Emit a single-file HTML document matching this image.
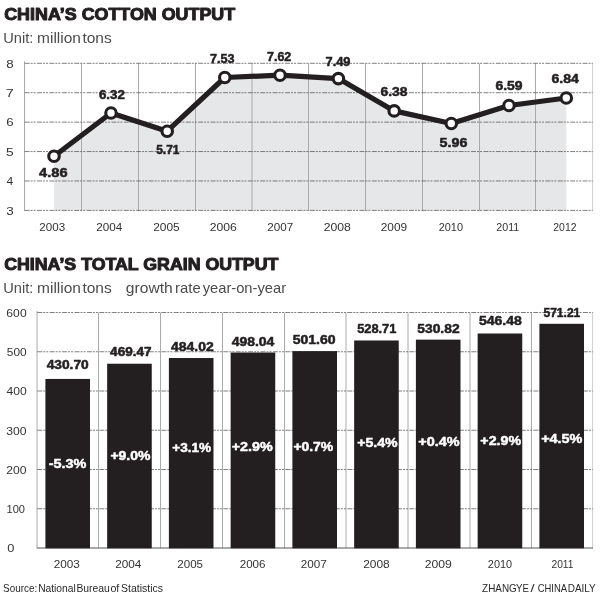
<!DOCTYPE html>
<html lang="en">
<head>
<meta charset="utf-8">
<title>China's cotton output / China's total grain output</title>
<style>
html,body{margin:0;padding:0;background:#fff;}
svg{display:block;}
text{font-family:"Liberation Sans",sans-serif;}
</style>
</head>
<body>
<svg width="600" height="596" viewBox="0 0 600 596">
<rect width="600" height="596" fill="#fff"/>
<polygon points="54,210.4 54,156.3 111,113 167.2,131.2 224.8,77.5 280,75.2 338.4,78.6 394.2,110.9 451.3,123.5 509,105.5 566.3,98 566.3,210.4" fill="#e6e7e8"/>
<g stroke="#aaaaaa" stroke-width="1" fill="none">
<line x1="24.50" y1="61.5" x2="24.50" y2="210.9"/>
<line x1="81.50" y1="63.3" x2="81.50" y2="210.9"/>
<line x1="138.50" y1="63.3" x2="138.50" y2="210.9"/>
<line x1="195.50" y1="63.3" x2="195.50" y2="210.9"/>
<line x1="252.00" y1="63.3" x2="252.00" y2="210.9"/>
<line x1="308.50" y1="63.3" x2="308.50" y2="210.9"/>
<line x1="365.50" y1="63.3" x2="365.50" y2="210.9"/>
<line x1="422.50" y1="63.3" x2="422.50" y2="210.9"/>
<line x1="479.50" y1="63.3" x2="479.50" y2="210.9"/>
<line x1="535.50" y1="63.3" x2="535.50" y2="210.9"/>
</g>
<line x1="592.6" y1="63" x2="592.6" y2="210.9" stroke="#cfcfcf" stroke-width="1"/>
<g stroke="#555" stroke-width="0.75" fill="none" stroke-dasharray="5 1 2 1 2 1.4">
<line x1="24.6" y1="210.40" x2="592.6" y2="210.40"/>
<line x1="24.6" y1="180.98" x2="592.6" y2="180.98"/>
<line x1="24.6" y1="151.56" x2="592.6" y2="151.56"/>
<line x1="24.6" y1="122.14" x2="592.6" y2="122.14"/>
<line x1="24.6" y1="92.72" x2="592.6" y2="92.72"/>
<line x1="24.6" y1="63.30" x2="592.6" y2="63.30"/>
</g>
<polyline points="54,156.3 111,113 167.2,131.2 224.8,77.5 280,75.2 338.4,78.6 394.2,110.9 451.3,123.5 509,105.5 566.3,98" fill="none" stroke="#231f20" stroke-width="5.2" stroke-linejoin="round" stroke-linecap="round"/>
<circle cx="54" cy="156.3" r="5.25" fill="#fff" stroke="#231f20" stroke-width="3.1"/>
<circle cx="111" cy="113" r="5.25" fill="#fff" stroke="#231f20" stroke-width="3.1"/>
<circle cx="167.2" cy="131.2" r="5.25" fill="#fff" stroke="#231f20" stroke-width="3.1"/>
<circle cx="224.8" cy="77.5" r="5.25" fill="#fff" stroke="#231f20" stroke-width="3.1"/>
<circle cx="280" cy="75.2" r="5.25" fill="#fff" stroke="#231f20" stroke-width="3.1"/>
<circle cx="338.4" cy="78.6" r="5.25" fill="#fff" stroke="#231f20" stroke-width="3.1"/>
<circle cx="394.2" cy="110.9" r="5.25" fill="#fff" stroke="#231f20" stroke-width="3.1"/>
<circle cx="451.3" cy="123.5" r="5.25" fill="#fff" stroke="#231f20" stroke-width="3.1"/>
<circle cx="509" cy="105.5" r="5.25" fill="#fff" stroke="#231f20" stroke-width="3.1"/>
<circle cx="566.3" cy="98" r="5.25" fill="#fff" stroke="#231f20" stroke-width="3.1"/>
<g stroke="#aaaaaa" stroke-width="1" fill="none">
<line x1="37.00" y1="311" x2="37.00" y2="548"/>
<line x1="98.50" y1="312.5" x2="98.50" y2="548"/>
<line x1="160.50" y1="312.5" x2="160.50" y2="548"/>
<line x1="222.50" y1="312.5" x2="222.50" y2="548"/>
<line x1="284.50" y1="312.5" x2="284.50" y2="548"/>
<line x1="346.00" y1="312.5" x2="346.00" y2="548"/>
<line x1="408.00" y1="312.5" x2="408.00" y2="548"/>
<line x1="470.00" y1="312.5" x2="470.00" y2="548"/>
<line x1="531.50" y1="312.5" x2="531.50" y2="548"/>
</g>
<line x1="592.6" y1="312" x2="592.6" y2="548" stroke="#cfcfcf" stroke-width="1"/>
<g stroke="#555" stroke-width="0.75" fill="none" stroke-dasharray="5 1 2 1 2 1.4">
<line x1="37.3" y1="508.75" x2="592.6" y2="508.75"/>
<line x1="37.3" y1="469.50" x2="592.6" y2="469.50"/>
<line x1="37.3" y1="430.25" x2="592.6" y2="430.25"/>
<line x1="37.3" y1="391.00" x2="592.6" y2="391.00"/>
<line x1="37.3" y1="351.75" x2="592.6" y2="351.75"/>
<line x1="37.3" y1="312.50" x2="592.6" y2="312.50"/>
</g>
<line x1="36.8" y1="548" x2="593" y2="548" stroke="#555" stroke-width="1"/>
<rect x="45.40" y="378.95" width="44.6" height="169.35" fill="#231f20"/>
<rect x="107.15" y="363.73" width="44.6" height="184.57" fill="#231f20"/>
<rect x="168.90" y="358.02" width="44.6" height="190.28" fill="#231f20"/>
<rect x="230.65" y="352.52" width="44.6" height="195.78" fill="#231f20"/>
<rect x="292.40" y="351.12" width="44.6" height="197.18" fill="#231f20"/>
<rect x="354.15" y="340.48" width="44.6" height="207.82" fill="#231f20"/>
<rect x="415.90" y="339.65" width="44.6" height="208.65" fill="#231f20"/>
<rect x="477.65" y="333.51" width="44.6" height="214.79" fill="#231f20"/>
<rect x="539.40" y="323.80" width="44.6" height="224.50" fill="#231f20"/>
<text x="4.22" y="19.60" font-size="16.2" font-weight="bold" fill="#231f20" stroke="#231f20" stroke-width="1.0" stroke-linejoin="round" textLength="230.95" lengthAdjust="spacingAndGlyphs">CHINA’S COTTON OUTPUT</text>
<text y="43.30" font-size="15" font-weight="normal" fill="#4c4c4c"><tspan x="3.29" textLength="30.05" lengthAdjust="spacingAndGlyphs">Unit:</tspan> <tspan x="37.08" textLength="43.88" lengthAdjust="spacingAndGlyphs">million</tspan> <tspan x="82.42" textLength="29.36" lengthAdjust="spacingAndGlyphs">tons</tspan></text>
<text x="4.23" y="269.60" font-size="16.2" font-weight="bold" fill="#231f20" stroke="#231f20" stroke-width="1.0" stroke-linejoin="round" textLength="274.14" lengthAdjust="spacingAndGlyphs">CHINA’S TOTAL GRAIN OUTPUT</text>
<text y="292.80" font-size="15" font-weight="normal" fill="#4c4c4c"><tspan x="3.29" textLength="30.05" lengthAdjust="spacingAndGlyphs">Unit:</tspan> <tspan x="37.08" textLength="43.88" lengthAdjust="spacingAndGlyphs">million</tspan> <tspan x="82.42" textLength="29.36" lengthAdjust="spacingAndGlyphs">tons</tspan> <tspan x="125.88" textLength="46.86" lengthAdjust="spacingAndGlyphs">growth</tspan> <tspan x="175.04" textLength="25.64" lengthAdjust="spacingAndGlyphs">rate</tspan> <tspan x="202.67" textLength="83.42" lengthAdjust="spacingAndGlyphs">year-on-year</tspan></text>
<text x="6.26" y="214.60" font-size="11" font-weight="normal" fill="#333" textLength="7.51" lengthAdjust="spacingAndGlyphs">3</text>
<text x="6.60" y="185.18" font-size="11" font-weight="normal" fill="#333" textLength="6.75" lengthAdjust="spacingAndGlyphs">4</text>
<text x="6.13" y="155.76" font-size="11" font-weight="normal" fill="#333" textLength="7.60" lengthAdjust="spacingAndGlyphs">5</text>
<text x="6.20" y="126.34" font-size="11" font-weight="normal" fill="#333" textLength="7.39" lengthAdjust="spacingAndGlyphs">6</text>
<text x="5.80" y="96.92" font-size="11" font-weight="normal" fill="#333" textLength="8.02" lengthAdjust="spacingAndGlyphs">7</text>
<text x="6.37" y="67.50" font-size="11" font-weight="normal" fill="#333" textLength="7.40" lengthAdjust="spacingAndGlyphs">8</text>
<text x="39.11" y="176.80" font-size="12" font-weight="bold" fill="#231f20" stroke="#231f20" stroke-width="0.5" stroke-linejoin="round" textLength="28.42" lengthAdjust="spacingAndGlyphs">4.86</text>
<text x="98.95" y="99.10" font-size="12" font-weight="bold" fill="#231f20" stroke="#231f20" stroke-width="0.5" stroke-linejoin="round" textLength="25.83" lengthAdjust="spacingAndGlyphs">6.32</text>
<text x="156.22" y="154.40" font-size="12" font-weight="bold" fill="#231f20" stroke="#231f20" stroke-width="0.5" stroke-linejoin="round" textLength="23.18" lengthAdjust="spacingAndGlyphs">5.71</text>
<text x="210.12" y="63.20" font-size="12" font-weight="bold" fill="#231f20" stroke="#231f20" stroke-width="0.5" stroke-linejoin="round" textLength="24.50" lengthAdjust="spacingAndGlyphs">7.53</text>
<text x="267.13" y="61.40" font-size="12" font-weight="bold" fill="#231f20" stroke="#231f20" stroke-width="0.5" stroke-linejoin="round" textLength="24.12" lengthAdjust="spacingAndGlyphs">7.62</text>
<text x="325.53" y="66.30" font-size="12" font-weight="bold" fill="#231f20" stroke="#231f20" stroke-width="0.5" stroke-linejoin="round" textLength="24.94" lengthAdjust="spacingAndGlyphs">7.49</text>
<text x="380.47" y="96.10" font-size="12" font-weight="bold" fill="#231f20" stroke="#231f20" stroke-width="0.5" stroke-linejoin="round" textLength="26.98" lengthAdjust="spacingAndGlyphs">6.38</text>
<text x="439.62" y="146.90" font-size="12" font-weight="bold" fill="#231f20" stroke="#231f20" stroke-width="0.5" stroke-linejoin="round" textLength="27.83" lengthAdjust="spacingAndGlyphs">5.96</text>
<text x="495.44" y="90.40" font-size="12" font-weight="bold" fill="#231f20" stroke="#231f20" stroke-width="0.5" stroke-linejoin="round" textLength="27.09" lengthAdjust="spacingAndGlyphs">6.59</text>
<text x="551.48" y="83.00" font-size="12" font-weight="bold" fill="#231f20" stroke="#231f20" stroke-width="0.5" stroke-linejoin="round" textLength="27.43" lengthAdjust="spacingAndGlyphs">6.84</text>
<text x="39.25" y="231.40" font-size="10" font-weight="normal" fill="#333" textLength="25.84" lengthAdjust="spacingAndGlyphs">2003</text>
<text x="96.24" y="231.40" font-size="10" font-weight="normal" fill="#333" textLength="25.96" lengthAdjust="spacingAndGlyphs">2004</text>
<text x="153.22" y="231.40" font-size="10" font-weight="normal" fill="#333" textLength="26.48" lengthAdjust="spacingAndGlyphs">2005</text>
<text x="209.66" y="231.40" font-size="10" font-weight="normal" fill="#333" textLength="27.17" lengthAdjust="spacingAndGlyphs">2006</text>
<text x="267.25" y="231.40" font-size="10" font-weight="normal" fill="#333" textLength="25.93" lengthAdjust="spacingAndGlyphs">2007</text>
<text x="323.66" y="231.40" font-size="10" font-weight="normal" fill="#333" textLength="27.16" lengthAdjust="spacingAndGlyphs">2008</text>
<text x="380.69" y="231.40" font-size="10" font-weight="normal" fill="#333" textLength="26.39" lengthAdjust="spacingAndGlyphs">2009</text>
<text x="438.75" y="231.40" font-size="10" font-weight="normal" fill="#333" textLength="24.22" lengthAdjust="spacingAndGlyphs">2010</text>
<text x="496.29" y="231.40" font-size="10" font-weight="normal" fill="#333" textLength="22.95" lengthAdjust="spacingAndGlyphs">2011</text>
<text x="553.33" y="231.40" font-size="10" font-weight="normal" fill="#333" textLength="23.16" lengthAdjust="spacingAndGlyphs">2012</text>
<text x="6.37" y="316.80" font-size="11" font-weight="normal" fill="#333" textLength="20.29" lengthAdjust="spacingAndGlyphs">600</text>
<text x="6.82" y="356.05" font-size="11" font-weight="normal" fill="#333" textLength="19.88" lengthAdjust="spacingAndGlyphs">500</text>
<text x="6.64" y="395.30" font-size="11" font-weight="normal" fill="#333" textLength="20.18" lengthAdjust="spacingAndGlyphs">400</text>
<text x="6.29" y="434.55" font-size="11" font-weight="normal" fill="#333" textLength="20.29" lengthAdjust="spacingAndGlyphs">300</text>
<text x="6.27" y="473.80" font-size="11" font-weight="normal" fill="#333" textLength="20.30" lengthAdjust="spacingAndGlyphs">200</text>
<text x="6.54" y="513.05" font-size="11" font-weight="normal" fill="#333" textLength="18.47" lengthAdjust="spacingAndGlyphs">100</text>
<text x="7.17" y="552.00" font-size="11" font-weight="normal" fill="#333" textLength="7.14" lengthAdjust="spacingAndGlyphs">0</text>
<text x="46.65" y="369.30" font-size="12" font-weight="bold" fill="#231f20" stroke="#231f20" stroke-width="0.5" stroke-linejoin="round" textLength="42.02" lengthAdjust="spacingAndGlyphs">430.70</text>
<text x="110.11" y="356.30" font-size="12" font-weight="bold" fill="#231f20" stroke="#231f20" stroke-width="0.5" stroke-linejoin="round" textLength="41.42" lengthAdjust="spacingAndGlyphs">469.47</text>
<text x="171.10" y="350.80" font-size="12" font-weight="bold" fill="#231f20" stroke="#231f20" stroke-width="0.5" stroke-linejoin="round" textLength="42.57" lengthAdjust="spacingAndGlyphs">484.02</text>
<text x="231.70" y="345.90" font-size="12" font-weight="bold" fill="#231f20" stroke="#231f20" stroke-width="0.5" stroke-linejoin="round" textLength="42.69" lengthAdjust="spacingAndGlyphs">498.04</text>
<text x="292.68" y="344.30" font-size="12" font-weight="bold" fill="#231f20" stroke="#231f20" stroke-width="0.5" stroke-linejoin="round" textLength="42.91" lengthAdjust="spacingAndGlyphs">501.60</text>
<text x="357.15" y="332.60" font-size="12" font-weight="bold" fill="#231f20" stroke="#231f20" stroke-width="0.5" stroke-linejoin="round" textLength="39.23" lengthAdjust="spacingAndGlyphs">528.71</text>
<text x="417.31" y="332.60" font-size="12" font-weight="bold" fill="#231f20" stroke="#231f20" stroke-width="0.5" stroke-linejoin="round" textLength="42.29" lengthAdjust="spacingAndGlyphs">530.82</text>
<text x="478.94" y="325.30" font-size="12" font-weight="bold" fill="#231f20" stroke="#231f20" stroke-width="0.5" stroke-linejoin="round" textLength="42.86" lengthAdjust="spacingAndGlyphs">546.48</text>
<text x="543.50" y="317.20" font-size="12" font-weight="bold" fill="#231f20" stroke="#231f20" stroke-width="0.5" stroke-linejoin="round" textLength="36.76" lengthAdjust="spacingAndGlyphs">571.21</text>
<text x="48.78" y="468.30" font-size="12" font-weight="bold" fill="#fff" stroke="#fff" stroke-width="0.45" stroke-linejoin="round" textLength="37.66" lengthAdjust="spacingAndGlyphs">-5.3%</text>
<text x="110.40" y="459.90" font-size="12" font-weight="bold" fill="#fff" stroke="#fff" stroke-width="0.45" stroke-linejoin="round" textLength="40.01" lengthAdjust="spacingAndGlyphs">+9.0%</text>
<text x="172.27" y="451.60" font-size="12" font-weight="bold" fill="#fff" stroke="#fff" stroke-width="0.45" stroke-linejoin="round" textLength="38.89" lengthAdjust="spacingAndGlyphs">+3.1%</text>
<text x="231.67" y="451.10" font-size="12" font-weight="bold" fill="#fff" stroke="#fff" stroke-width="0.45" stroke-linejoin="round" textLength="41.00" lengthAdjust="spacingAndGlyphs">+2.9%</text>
<text x="293.40" y="451.10" font-size="12" font-weight="bold" fill="#fff" stroke="#fff" stroke-width="0.45" stroke-linejoin="round" textLength="39.85" lengthAdjust="spacingAndGlyphs">+0.7%</text>
<text x="357.21" y="446.80" font-size="12" font-weight="bold" fill="#fff" stroke="#fff" stroke-width="0.45" stroke-linejoin="round" textLength="40.42" lengthAdjust="spacingAndGlyphs">+5.4%</text>
<text x="418.38" y="445.60" font-size="12" font-weight="bold" fill="#fff" stroke="#fff" stroke-width="0.45" stroke-linejoin="round" textLength="41.30" lengthAdjust="spacingAndGlyphs">+0.4%</text>
<text x="480.38" y="445.10" font-size="12" font-weight="bold" fill="#fff" stroke="#fff" stroke-width="0.45" stroke-linejoin="round" textLength="40.67" lengthAdjust="spacingAndGlyphs">+2.9%</text>
<text x="541.20" y="442.80" font-size="12" font-weight="bold" fill="#fff" stroke="#fff" stroke-width="0.45" stroke-linejoin="round" textLength="41.22" lengthAdjust="spacingAndGlyphs">+4.5%</text>
<text x="53.68" y="568.00" font-size="10" font-weight="normal" fill="#333" textLength="26.08" lengthAdjust="spacingAndGlyphs">2003</text>
<text x="115.22" y="568.00" font-size="10" font-weight="normal" fill="#333" textLength="26.21" lengthAdjust="spacingAndGlyphs">2004</text>
<text x="177.25" y="568.00" font-size="10" font-weight="normal" fill="#333" textLength="25.79" lengthAdjust="spacingAndGlyphs">2005</text>
<text x="239.68" y="568.00" font-size="10" font-weight="normal" fill="#333" textLength="25.83" lengthAdjust="spacingAndGlyphs">2006</text>
<text x="300.68" y="568.00" font-size="10" font-weight="normal" fill="#333" textLength="26.02" lengthAdjust="spacingAndGlyphs">2007</text>
<text x="363.22" y="568.00" font-size="10" font-weight="normal" fill="#333" textLength="26.50" lengthAdjust="spacingAndGlyphs">2008</text>
<text x="424.66" y="568.00" font-size="10" font-weight="normal" fill="#333" textLength="27.05" lengthAdjust="spacingAndGlyphs">2009</text>
<text x="487.89" y="568.00" font-size="10" font-weight="normal" fill="#333" textLength="24.11" lengthAdjust="spacingAndGlyphs">2010</text>
<text x="551.47" y="568.00" font-size="10" font-weight="normal" fill="#333" textLength="21.99" lengthAdjust="spacingAndGlyphs">2011</text>
<text y="591.50" font-size="11" font-weight="normal" fill="#2a2a2a"><tspan x="3.07" textLength="34.07" lengthAdjust="spacingAndGlyphs">Source:</tspan> <tspan x="38.14" textLength="37.61" lengthAdjust="spacingAndGlyphs">National</tspan> <tspan x="76.39" textLength="33.43" lengthAdjust="spacingAndGlyphs">Bureau</tspan> <tspan x="110.38" textLength="8.93" lengthAdjust="spacingAndGlyphs">of</tspan> <tspan x="121.09" textLength="41.87" lengthAdjust="spacingAndGlyphs">Statistics</tspan></text>
<text y="591.60" font-size="11" font-weight="normal" fill="#2a2a2a"><tspan x="482.11" textLength="34.68" lengthAdjust="spacingAndGlyphs">ZHANG</tspan> <tspan x="516.12" textLength="12.93" lengthAdjust="spacingAndGlyphs">YE</tspan> <tspan x="530.59" textLength="4.08" lengthAdjust="spacingAndGlyphs">/</tspan> <tspan x="537.66" textLength="28.91" lengthAdjust="spacingAndGlyphs">CHINA</tspan> <tspan x="567.74" textLength="28.03" lengthAdjust="spacingAndGlyphs">DAILY</tspan></text>
</svg>
</body>
</html>
